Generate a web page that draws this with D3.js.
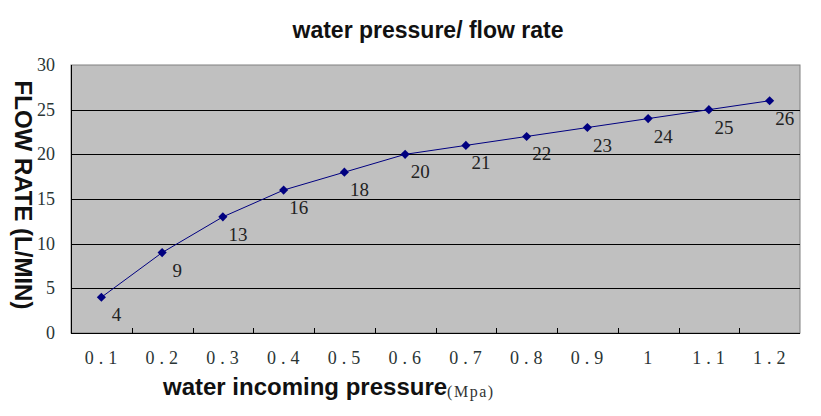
<!DOCTYPE html>
<html>
<head>
<meta charset="utf-8">
<script src="https://cdn.jsdelivr.net/npm/d3@7"></script>
<style>
  body { margin: 0; background: #fff; }
  svg { display: block; }
</style>
</head>
<body>
<div id="chart"></div>
<script>
// chart data
const pressures = ['0.1', '0.2', '0.3', '0.4', '0.5', '0.6', '0.7', '0.8', '0.9', '1', '1.1', '1.2'];
const flowRates = [4, 9, 13, 16, 18, 20, 21, 22, 23, 24, 25, 26];
const yTicks = [0, 5, 10, 15, 20, 25, 30];

const width = 821, height = 416;
const margin = { top: 65, right: 21, bottom: 83, left: 71 };
const innerW = width - margin.left - margin.right;
const innerH = height - margin.top - margin.bottom;

const svg = d3.select('#chart').append('svg')
  .attr('width', width)
  .attr('height', height);

const g = svg.append('g')
  .attr('transform', `translate(${margin.left},${margin.top})`);

const x = d3.scaleBand().domain(pressures).range([0, innerW]);
const y = d3.scaleLinear().domain([0, 30]).range([innerH, 0]);

const serif = '"Liberation Serif", "DejaVu Serif", serif';
const sans = '"Liberation Sans", Arial, sans-serif';

// plot background
g.append('rect')
  .attr('width', innerW)
  .attr('height', innerH)
  .attr('fill', '#c0c0c0')
  .attr('stroke', '#808080');

// gridlines
g.selectAll('.grid').data(yTicks.filter(d => d > 0 && d < 30))
  .join('line')
  .attr('x1', 0).attr('x2', innerW)
  .attr('y1', d => Math.round(y(d)) + 0.5).attr('y2', d => Math.round(y(d)) + 0.5)
  .attr('stroke', '#000')
  .attr('stroke-width', 1);

// x axis tick marks between categories
g.selectAll('.xtick').data(pressures.slice(1))
  .join('line')
  .attr('x1', d => Math.round(x(d)) + 0.5).attr('x2', d => Math.round(x(d)) + 0.5)
  .attr('y1', innerH).attr('y2', innerH - 5)
  .attr('stroke', '#000');

g.append('line')
  .attr('x1', 0).attr('x2', innerW)
  .attr('y1', innerH + 0.5).attr('y2', innerH + 0.5)
  .attr('stroke', '#000');
g.append('line')
  .attr('x1', 0.5).attr('x2', 0.5)
  .attr('y1', 0).attr('y2', innerH)
  .attr('stroke', '#000');

// x tick labels
g.selectAll('.xlabel').data(pressures)
  .join('text')
  .attr('x', d => x(d) + x.bandwidth() / 2 + 2)
  .attr('y', innerH + 31)
  .attr('text-anchor', 'middle')
  .attr('font-family', serif)
  .attr('font-size', 18)
  .attr('fill', '#2a3535')
  .style('letter-spacing', '5px')
  .text(d => d);

// y tick labels
g.selectAll('.ylabel').data(yTicks)
  .join('text')
  .attr('x', -16)
  .attr('y', d => y(d) + 6)
  .attr('text-anchor', 'end')
  .attr('font-family', serif)
  .attr('font-size', 18)
  .attr('fill', '#2a3535')
  .text(d => d);

// series line
const cx = i => x(pressures[i]) + x.bandwidth() / 2;

const line = d3.line()
  .x((d, i) => cx(i))
  .y(d => y(d));

g.append('path')
  .datum(flowRates)
  .attr('d', line)
  .attr('fill', 'none')
  .attr('stroke', '#000080')
  .attr('stroke-width', 1);

// diamond markers (rotated squares)
g.selectAll('.pt').data(flowRates)
  .join('path')
  .attr('d', d3.symbol(d3.symbolSquare, 42))
  .attr('transform', (d, i) => `translate(${cx(i)},${y(d)}) rotate(45)`)
  .attr('fill', '#000080');

// data labels
g.selectAll('.dl').data(flowRates)
  .join('text')
  .attr('x', (d, i) => cx(i) + 15)
  .attr('y', d => y(d) + 24)
  .attr('text-anchor', 'middle')
  .attr('font-family', serif)
  .attr('font-size', 19)
  .attr('fill', '#222')
  .text(d => d);

// title
svg.append('text')
  .attr('x', 428)
  .attr('y', 38)
  .attr('text-anchor', 'middle')
  .attr('font-family', sans)
  .attr('font-weight', 'bold')
  .attr('font-size', 23)
  .attr('fill', '#111')
  .text('water pressure/ flow rate');

// x axis title
const xt = svg.append('text')
  .attr('x', 163)
  .attr('y', 395)
  .attr('font-family', sans)
  .attr('font-weight', 'bold')
  .attr('font-size', 24)
  .attr('fill', '#111');
xt.append('tspan').text('water incoming pressure');
xt.append('tspan')
  .attr('dy', 2)
  .attr('font-family', serif)
  .attr('font-weight', 'normal')
  .attr('font-size', 16)
  .attr('fill', '#333')
  .style('letter-spacing', '1.5px')
  .text('(Mpa)');

// y axis title
svg.append('text')
  .attr('transform', 'translate(15,195) rotate(90)')
  .attr('text-anchor', 'middle')
  .attr('font-family', sans)
  .attr('font-weight', 'bold')
  .attr('font-size', 24)
  .attr('fill', '#111')
  .text('FLOW RATE (L/MIN)');
</script>
</body>
</html>
